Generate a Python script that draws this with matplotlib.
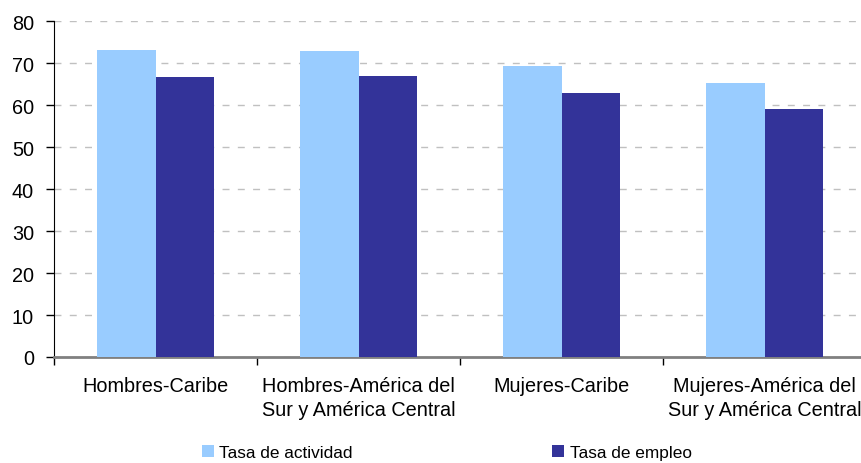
import numpy as np
import matplotlib
matplotlib.use("Agg")
import matplotlib.pyplot as plt

plt.rcParams['font.family'] = ['Liberation Sans', 'DejaVu Sans']

categorias = ['Hombres-Caribe',
              'Hombres-América del\nSur y América Central',
              'Mujeres-Caribe',
              'Mujeres-América del\nSur y América Central']
tasa_actividad = [73.1, 72.9, 69.3, 65.2]
tasa_empleo = [66.7, 66.9, 62.9, 59.0]

fig = plt.figure(figsize=(8.62, 4.64), dpi=100)
ax = fig.add_axes([54 / 862, 1 - 358 / 464, 812 / 862, 336 / 464])

x = np.arange(len(categorias))
w = 0.29
ax.bar(x - w / 2, tasa_actividad, w, color='#99ccff', label='Tasa de actividad', zorder=3)
ax.bar(x + w / 2, tasa_empleo, w, color='#333399', label='Tasa de empleo', zorder=3)

ax.set_xlim(-0.5, 3.5)
ax.set_ylim(0, 80)
ax.set_yticks(np.arange(0, 81, 10))
ax.yaxis.grid(True, color='#c0c0c0', linestyle=(0, (5, 6)), linewidth=1)
ax.set_axisbelow(True)

ax.set_xticks(x)
ax.set_xticklabels(categorias, fontsize=14.3, linespacing=1.3)
ax.set_xticks(np.arange(-0.5, 3.6, 1), minor=True)
ax.tick_params(axis='x', which='major', length=0, pad=14)
ax.tick_params(axis='x', which='minor', length=6, width=1, direction='out', color='black')
ax.tick_params(axis='y', labelsize=14.3, length=6, width=1, pad=8.5)

for s in ['top', 'right']:
    ax.spines[s].set_visible(False)
ax.spines['bottom'].set_color('#808080')
ax.spines['bottom'].set_linewidth(2)
ax.spines['left'].set_color('black')

fig.legend(loc='lower left', bbox_to_anchor=(195 / 862, -0.008), ncol=2,
           frameon=False, fontsize=12.4, handlelength=0.7, handleheight=0.7,
           handletextpad=0.3, columnspacing=11.6, borderaxespad=0)

fig.savefig('out.png', dpi=100)
